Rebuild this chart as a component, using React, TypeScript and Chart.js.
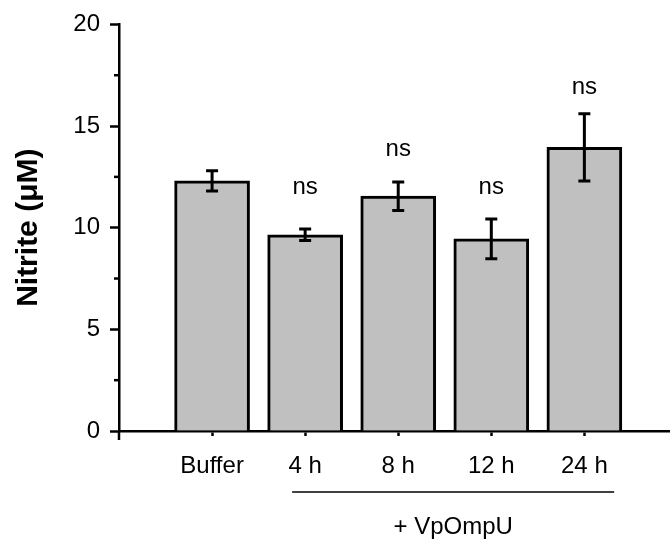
import React, { useEffect, useRef } from "react";
import { Chart, registerables } from "chart.js";

Chart.register(...registerables);

const categories = ["Buffer", "4 h", "8 h", "12 h", "24 h"];
const categoryPositions = [1, 2, 3, 4, 5];
const nitrite = [12.3, 9.65, 11.55, 9.45, 13.95];
const nitriteError = [0.5, 0.28, 0.7, 0.98, 1.65];
const sigLabels = ["", "ns", "ns", "ns", "ns"];
const sigLabelValues = [0, 12.0, 13.85, 12.0, 16.9];
const yTickValues = [0, 5, 10, 15, 20];
const yMinorTickValues = [2.5, 7.5, 12.5, 17.5];
const groupLabel = "+ VpOmpU";
const groupSpan = [1.86, 5.32];

const FONT = "'Liberation Sans', Arial, sans-serif";

const annotationsPlugin = {
  id: "annotations",
  afterDatasetsDraw(chart: any) {
    const ctx = chart.ctx;
    const xs = chart.scales.x;
    const ys = chart.scales.y;
    ctx.save();
    ctx.strokeStyle = "#000";
    ctx.lineWidth = 3;
    ctx.lineCap = "butt";
    nitrite.forEach((v, i) => {
      const x = xs.getPixelForValue(categoryPositions[i]);
      const yTop = ys.getPixelForValue(v + nitriteError[i]);
      const yBot = ys.getPixelForValue(v - nitriteError[i]);
      ctx.beginPath();
      ctx.moveTo(x, yTop);
      ctx.lineTo(x, yBot);
      ctx.moveTo(x - 6, yTop);
      ctx.lineTo(x + 6, yTop);
      ctx.moveTo(x - 6, yBot);
      ctx.lineTo(x + 6, yBot);
      ctx.stroke();
    });
    ctx.fillStyle = "#000";
    ctx.font = `24px ${FONT}`;
    ctx.textAlign = "center";
    ctx.textBaseline = "middle";
    sigLabels.forEach((t, i) => {
      if (!t) return;
      const x = xs.getPixelForValue(categoryPositions[i]);
      const y = ys.getPixelForValue(sigLabelValues[i]);
      ctx.fillText(t, x, y);
    });
    ctx.restore();
  },
  afterDraw(chart: any) {
    const ctx = chart.ctx;
    const xs = chart.scales.x;
    const ys = chart.scales.y;
    const area = chart.chartArea;
    ctx.save();
    ctx.strokeStyle = "#000";
    ctx.lineWidth = 2.5;
    ctx.beginPath();
    ctx.moveTo(area.left, ys.getPixelForValue(0));
    ctx.lineTo(area.left, ys.getPixelForValue(0) + 9);
    ctx.stroke();
    yMinorTickValues.forEach((v) => {
      const y = ys.getPixelForValue(v);
      ctx.beginPath();
      ctx.moveTo(area.left - 5, y);
      ctx.lineTo(area.left, y);
      ctx.stroke();
    });
    const x1 = xs.getPixelForValue(groupSpan[0]);
    const x2 = xs.getPixelForValue(groupSpan[1]);
    const lineY = area.bottom + 61;
    ctx.lineWidth = 1.5;
    ctx.beginPath();
    ctx.moveTo(x1, lineY);
    ctx.lineTo(x2, lineY);
    ctx.stroke();
    ctx.fillStyle = "#000";
    ctx.font = `24px ${FONT}`;
    ctx.textAlign = "center";
    ctx.textBaseline = "middle";
    ctx.fillText(groupLabel, (x1 + x2) / 2, lineY + 35);
    ctx.restore();
  },
};

export default function App() {
  const ref = useRef<HTMLCanvasElement | null>(null);

  useEffect(() => {
    if (!ref.current) return;
    const chart = new Chart(ref.current, {
      type: "bar",
      data: {
        datasets: [
          {
            data: nitrite.map((v, i) => ({ x: categoryPositions[i], y: v })),
            backgroundColor: "#c0c0c0",
            borderColor: "#000",
            borderWidth: 3,
            barThickness: 75,
          },
        ],
      },
      options: {
        animation: false,
        responsive: false,
        maintainAspectRatio: false,
        layout: { padding: { top: 22, left: 0, right: 0, bottom: 0 } },
        plugins: {
          legend: { display: false },
          tooltip: { enabled: false },
        },
        scales: {
          x: {
            type: "linear",
            min: 0,
            max: 5.92,
            offset: false,
            afterBuildTicks: (scale: any) => {
              scale.ticks = categoryPositions.map((v) => ({ value: v }));
            },
            afterFit: (scale: any) => {
              scale.height = 114;
            },
            grid: {
              display: true,
              drawOnChartArea: false,
              drawTicks: true,
              tickLength: 5,
              tickWidth: 2.5,
              tickColor: "#000",
              offset: false,
            },
            border: { display: true, color: "#000", width: 2.5 },
            ticks: {
              autoSkip: false,
              maxRotation: 0,
              padding: 16,
              color: "#000",
              font: { family: FONT, size: 24 },
              callback: (v: any) => {
                const i = categoryPositions.indexOf(Number(v));
                return i >= 0 ? categories[i] : "";
              },
            },
          },
          y: {
            min: 0,
            max: 20,
            afterBuildTicks: (scale: any) => {
              scale.ticks = yTickValues.map((v) => ({ value: v }));
            },
            afterFit: (scale: any) => {
              scale.width = 119;
            },
            grid: {
              display: true,
              drawOnChartArea: false,
              drawTicks: true,
              tickLength: 9,
              tickWidth: 2.5,
              tickColor: "#000",
            },
            border: { display: true, color: "#000", width: 2.5 },
            ticks: {
              padding: 10,
              color: "#000",
              font: { family: FONT, size: 24 },
            },
            title: {
              display: true,
              text: "Nitrite (μM)",
              color: "#000",
              font: { family: FONT, size: 30, weight: "bold" },
              padding: { top: 11, bottom: 0 },
            },
          },
        },
      },
      plugins: [annotationsPlugin],
    });
    return () => chart.destroy();
  }, []);

  return (
    <div style={{ position: "fixed", left: 0, top: 0, width: 670, height: 545, background: "#fff" }}>
      <canvas ref={ref} width={670} height={545} style={{ display: "block" }} />
    </div>
  );
}
